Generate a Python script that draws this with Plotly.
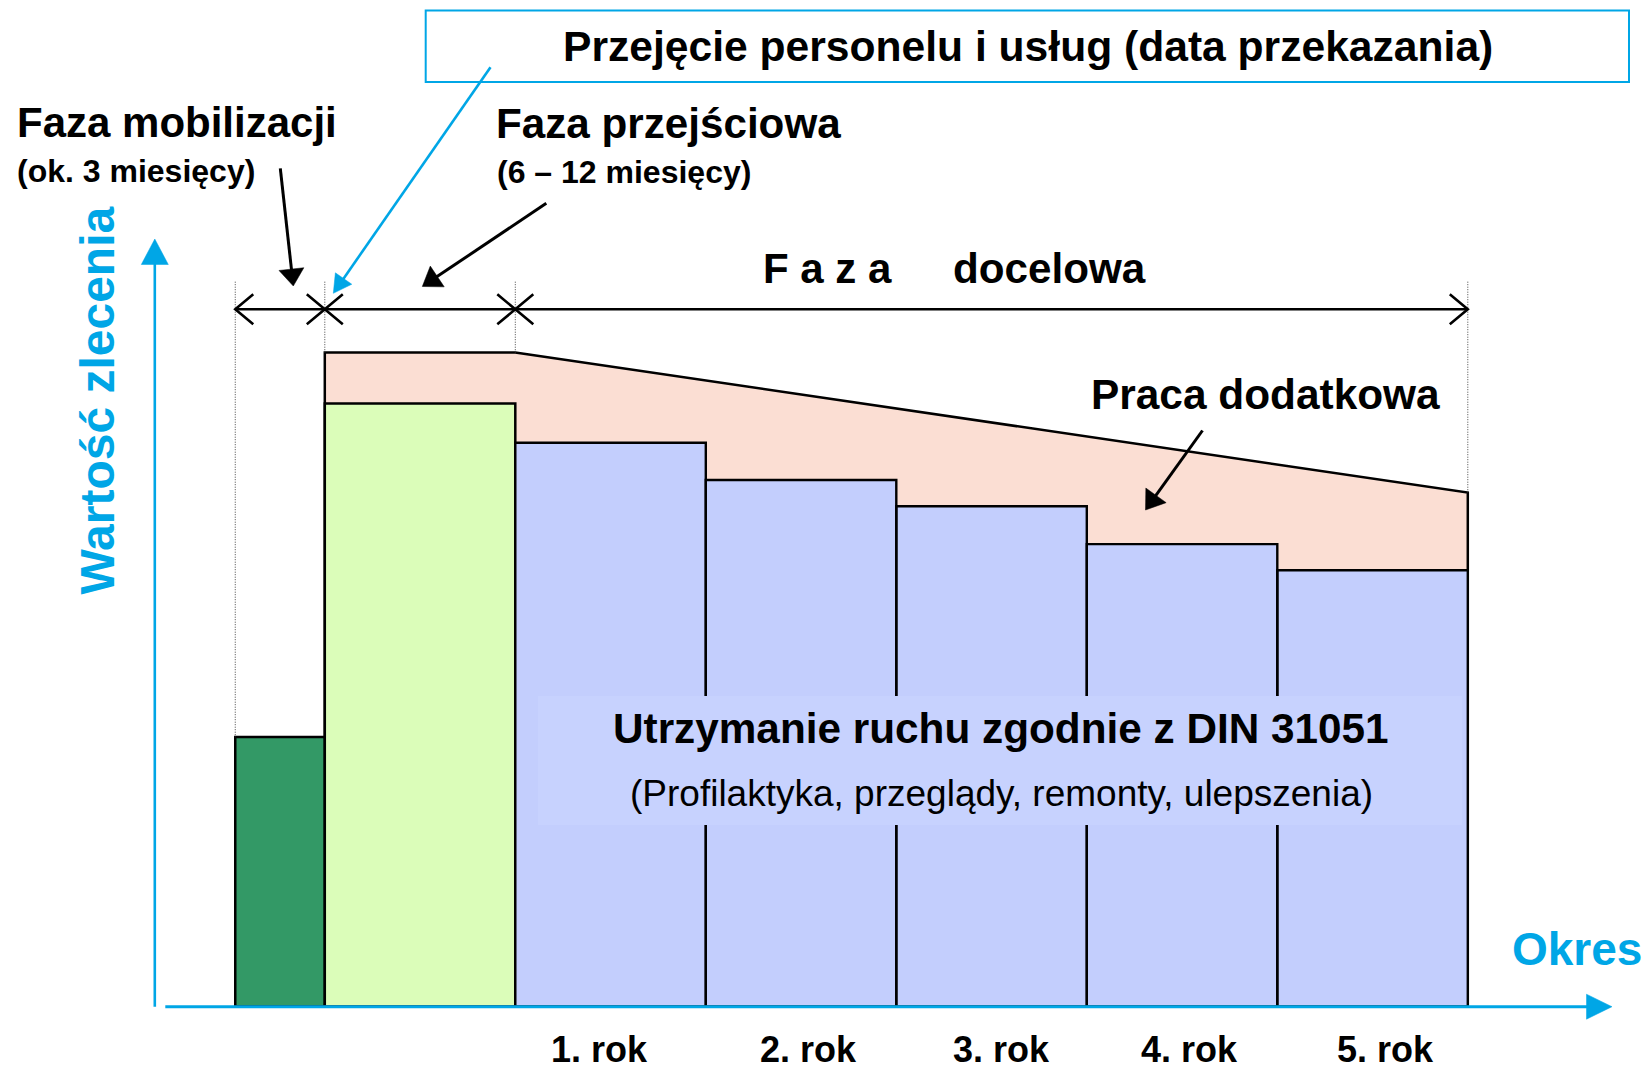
import plotly.graph_objects as go

W, H = 1648, 1072

# ---------------- data ----------------
phase_names = ["Faza mobilizacji", "Faza przejściowa", "Faza docelowa"]
# boundaries of the periods on the time axis (1 unit = 1 year)
period_edges = [-1.47, -1.0, 0, 1, 2, 3, 4, 5]
mobilization_value = 41.2          # dark green bar
transition_value = 92.2            # light green bar
transition_total = 100.0           # incl. additional work (pink)
year_labels = ["1. rok", "2. rok", "3. rok", "4. rok", "5. rok"]
year_label_pos = [0.44, 1.54, 2.55, 3.54, 4.57]
year_values = [86.2, 80.5, 76.5, 70.7, 66.7]   # maintenance (blue)
extra_work_end = 78.6              # total value at end of year 5

# ---------------- styling ----------------
CYAN = "#00A6E6"
GREEN = "#339966"
LGREEN = "#DBFDB9"
PINK = "#FBDED3"
BLUE = "#C3CEFD"
BOXBLUE = "#C7D2FE"
FONT = "Liberation Sans, Arial, sans-serif"

# axis mapping (pixel calibration of the drawing area)
X0PX, XS = 515.3, 190.5     # px of x=0, px per unit
Y0PX, YS = 1006.5, 6.54     # px of y=0, px per unit
xrange_ = [(0 - X0PX) / XS, (W - X0PX) / XS]
yrange_ = [(Y0PX - H) / YS, Y0PX / YS]
DIM_Y = (Y0PX - 309.3) / YS        # level of dimension arrows
DIM_TOP = (Y0PX - 281.7) / YS      # top of dotted guide lines
CHEV_DX = 18 / XS
CHEV_DY = 15 / YS


def PX(x):
    return x / W


def PY(y):
    return 1 - y / H


def rects(x0s, x1s, hs):
    xs, ys = [], []
    for a, b, h in zip(x0s, x1s, hs):
        xs += [a, a, b, b, a, None]
        ys += [0, h, h, 0, 0, None]
    return xs, ys


fig = go.Figure()

# pink "Praca dodatkowa" area
e = period_edges
fig.add_trace(go.Scatter(
    x=[e[1], e[1], e[2], e[-1], e[-1], e[1]],
    y=[0, transition_total, transition_total, extra_work_end, 0, 0],
    mode="lines", fill="toself", fillcolor=PINK,
    line=dict(color="black", width=2.5), hoverinfo="skip", showlegend=False))

# mobilization bar
xs, ys = rects([e[0]], [e[1]], [mobilization_value])
fig.add_trace(go.Scatter(x=xs, y=ys, mode="lines", fill="toself", fillcolor=GREEN,
                         line=dict(color="black", width=2.5), hoverinfo="skip", showlegend=False))
# transition bar
xs, ys = rects([e[1]], [e[2]], [transition_value])
fig.add_trace(go.Scatter(x=xs, y=ys, mode="lines", fill="toself", fillcolor=LGREEN,
                         line=dict(color="black", width=2.5), hoverinfo="skip", showlegend=False))
# yearly maintenance bars
xs, ys = rects(e[2:-1], e[3:], year_values)
fig.add_trace(go.Scatter(x=xs, y=ys, mode="lines", fill="toself", fillcolor=BLUE,
                         line=dict(color="black", width=2.4), hoverinfo="skip", showlegend=False))

# dotted guide lines at phase boundaries
guide_x = [e[0], e[1], e[2], e[-1]]
guide_bottom = [mobilization_value, transition_total, transition_total, extra_work_end]
gx, gy = [], []
for x, b in zip(guide_x, guide_bottom):
    gx += [x, x, None]
    gy += [DIM_TOP, b, None]
fig.add_trace(go.Scatter(x=gx, y=gy, mode="lines",
                         line=dict(color="#444444", width=1, dash="1px,1.5px"),
                         hoverinfo="skip", showlegend=False))

# dimension double arrows
dx, dy = [], []
for a, b in zip(guide_x[:-1], guide_x[1:]):
    dx += [a, b, None]
    dy += [DIM_Y, DIM_Y, None]
    dx += [a + CHEV_DX, a, a + CHEV_DX, None]
    dy += [DIM_Y + CHEV_DY, DIM_Y, DIM_Y - CHEV_DY, None]
    dx += [b - CHEV_DX, b, b - CHEV_DX, None]
    dy += [DIM_Y + CHEV_DY, DIM_Y, DIM_Y - CHEV_DY, None]
fig.add_trace(go.Scatter(x=dx, y=dy, mode="lines",
                         line=dict(color="black", width=2.6),
                         hoverinfo="skip", showlegend=False))

shapes = []


def arrow(tail, tip, color, lw, head_len, head_w):
    (x0, y0), (x1, y1) = tail, tip
    ddx, ddy = x1 - x0, y1 - y0
    L = (ddx * ddx + ddy * ddy) ** 0.5
    ux, uy = ddx / L, ddy / L
    bx, by = x1 - ux * head_len, y1 - uy * head_len
    nx, ny = -uy, ux
    c1 = (bx + nx * head_w / 2, by + ny * head_w / 2)
    c2 = (bx - nx * head_w / 2, by - ny * head_w / 2)
    shapes.append(dict(type="line", xref="paper", yref="paper", layer="above",
                       x0=PX(x0), y0=PY(y0), x1=PX(bx + ux * 2), y1=PY(by + uy * 2),
                       line=dict(color=color, width=lw)))
    shapes.append(dict(type="path", xref="paper", yref="paper", layer="above",
                       path=f"M {PX(x1)},{PY(y1)} L {PX(c1[0])},{PY(c1[1])} L {PX(c2[0])},{PY(c2[1])} Z",
                       fillcolor=color, line=dict(color=color, width=0.5)))


# background behind the centre text
shapes.append(dict(type="rect", xref="paper", yref="paper", layer="above",
                   x0=PX(538), x1=PX(1462), y0=PY(696), y1=PY(825),
                   fillcolor=BOXBLUE, line=dict(width=0)))
# title box
shapes.append(dict(type="rect", xref="paper", yref="paper", layer="above",
                   x0=PX(425.7), x1=PX(1629), y0=PY(10.5), y1=PY(82),
                   fillcolor="white", line=dict(color=CYAN, width=2)))

# axes
arrow((154.8, 1006.7), (154.8, 239), CYAN, 2.6, 25.5, 27)
arrow((165.3, 1006.7), (1612, 1006.7), CYAN, 3, 25.5, 25)

# pointer arrows
arrow((280.3, 168.3), (293.3, 286), "black", 3, 17, 25)
arrow((490.5, 67.3), (333.3, 293.3), CYAN, 2.6, 18, 20)
arrow((546.3, 203.3), (422.3, 286.5), "black", 3, 18, 25)
arrow((1202.5, 430.5), (1145.5, 510), "black", 3, 18, 25)

ann = []


def txt(text, x, y, size, color="black", xanchor="left", bold=True, angle=0, xref="paper"):
    t = f"<b>{text}</b>" if bold else text
    ann.append(dict(text=t, x=PX(x) if xref == "paper" else x, y=PY(y), xref=xref, yref="paper",
                    xanchor=xanchor, yanchor="middle", showarrow=False, textangle=angle,
                    font=dict(family=FONT, size=size, color=color)))


txt("Przejęcie personelu i usług (data przekazania)", 1028, 46, 42.6, xanchor="center")
txt(phase_names[0], 14.5, 122, 42)
txt("(ok. 3 miesięcy)", 15, 171, 32)
txt(phase_names[1], 494, 123, 42.2)
txt("(6 – 12 miesięcy)", 494.5, 172, 32)
txt("F a z a", 761, 268, 42)
txt(phase_names[2].split()[1], 951, 268, 42.2)
txt("Praca dodatkowa", 1088.5, 394, 42.4)
txt("Utrzymanie ruchu zgodnie z DIN 31051", 1001, 728, 42.3, xanchor="center")
txt("(Profilaktyka, przeglądy, remonty, ulepszenia)", 1001.5, 793, 37, xanchor="center", bold=False)
txt("Okres", 1510, 949, 46, color=CYAN)
txt("Wartość zlecenia", 96.5, 401, 48, color=CYAN, xanchor="center", angle=-90)

# year labels along the time axis (bottom-anchored so they stay inside the page)
for lab, c in zip(year_labels, year_label_pos):
    ann.append(dict(text=f"<b>{lab}</b>", x=c, y=0.0005, xref="x", yref="paper",
                    xanchor="center", yanchor="bottom", showarrow=False, borderpad=0,
                    font=dict(family=FONT, size=36, color="black")))

fig.update_layout(
    width=W, height=H,
    margin=dict(l=0, r=0, t=0, b=0, pad=0),
    paper_bgcolor="white", plot_bgcolor="white",
    showlegend=False,
    xaxis=dict(range=xrange_, visible=False, fixedrange=True),
    yaxis=dict(range=yrange_, visible=False, fixedrange=True),
    shapes=shapes, annotations=ann,
)

fig.write_html("out.html", config={"displayModeBar": False},
               post_script="document.body.style.margin='0';document.body.style.overflow='hidden';")
